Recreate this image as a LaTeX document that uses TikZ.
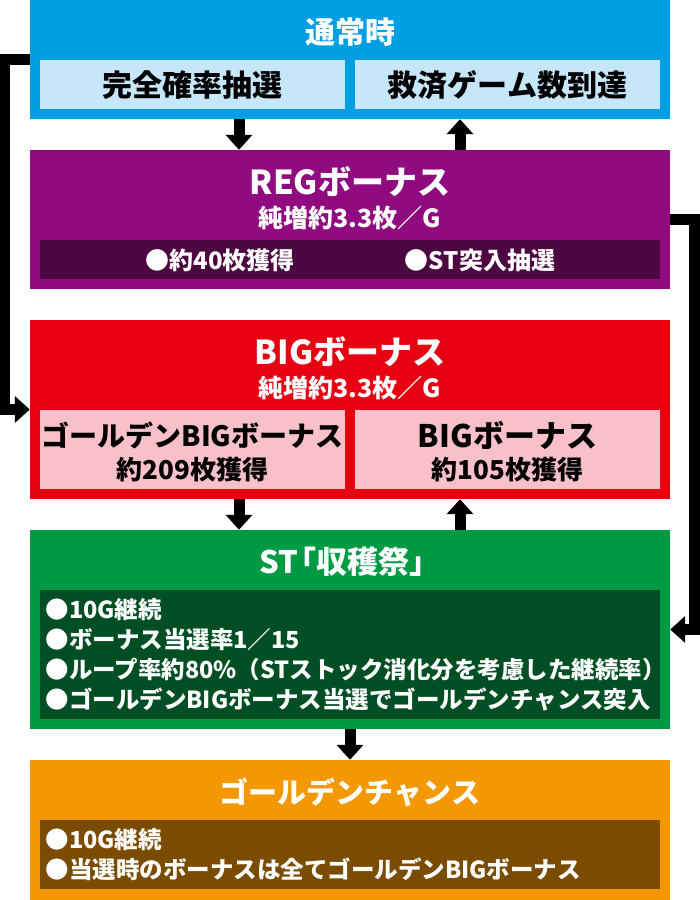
\documentclass[tikz,border=0pt]{standalone}
\usepackage{fontspec}
\setmainfont{Noto Sans CJK JP}[BoldFont={Noto Sans CJK JP Black}]
\usepackage{tikz}
\usetikzlibrary{arrows.meta, positioning}
\definecolor{normalcolor}{RGB}{0, 159, 227}
\definecolor{normallight}{RGB}{198, 230, 249}
\definecolor{regcolor}{RGB}{144, 10, 128}
\definecolor{regdark}{RGB}{76, 6, 64}
\definecolor{bigcolor}{RGB}{230, 0, 18}
\definecolor{biglight}{RGB}{248, 192, 200}
\definecolor{stcolor}{RGB}{0, 153, 68}
\definecolor{stdark}{RGB}{0, 78, 36}
\definecolor{goldcolor}{RGB}{243, 152, 0}
\definecolor{golddark}{RGB}{122, 76, 0}

\begin{document}
\begin{tikzpicture}[
    x=1pt, y=-1pt,
    panel/.style={fill=#1, inner sep=0pt, minimum width=640pt},
    inset/.style={fill=#1, inner sep=0pt},
    heading/.style={font=\bfseries\fontsize{#1}{#1}\selectfont, text=white},
    heading/.default=33,
    boxtext/.style={font=\bfseries\fontsize{#1}{#1}\selectfont},
    bandtext/.style={font=\bfseries\fontsize{#1}{30}\selectfont, text=white, align=left},
    bandtext/.default=23.5,
    flow/.style={-{Triangle[width=26pt, length=15pt]}, line width=11pt}
]
    \useasboundingbox (0,0) rectangle (700,900);

    % Normal
    \node[panel=normalcolor, minimum height=119pt] (normal) at (350, 59.5) {};
    \node[heading=30] (normaltitle) at (350, 32) {通常時};
    \node[inset=normallight, minimum width=305pt, minimum height=49pt] (lottery) at (192.5, 84.5) {};
    \node[boxtext=30] (lotterytext) at (192.5, 85) {完全確率抽選};
    \node[inset=normallight, minimum width=305pt, minimum height=49pt] (rescue) at (507.5, 84.5) {};
    \node[boxtext=30] (rescuetext) at (507.5, 85) {救済ゲーム数到達};

    % REG
    \node[panel=regcolor, minimum height=139pt] (reg) at (350, 219.5) {};
    \node[heading] (regtitle) at (350, 182) {REGボーナス};
    \node[heading=25] (regnet) at (350, 218) {純増約3.3枚／G};
    \node[inset=regdark, minimum width=620pt, minimum height=39pt] (regband) at (350, 259.5) {};
    \node[bandtext=24] (regget) at (220, 260) {●約40枚獲得};
    \node[bandtext=24] (regst) at (480, 260) {●ST突入抽選};

    % BIG
    \node[panel=bigcolor, minimum height=179pt] (big) at (350, 409.5) {};
    \node[heading] (bigtitle) at (350, 352) {BIGボーナス};
    \node[heading=25] (bignet) at (350, 388) {純増約3.3枚／G};
    \node[inset=biglight, minimum width=305pt, minimum height=79pt] (goldbig) at (192.5, 449.5) {};
    \node[boxtext=28] (goldbigname) at (192.5, 435) {ゴールデンBIGボーナス};
    \node[boxtext=26] (goldbigget) at (192.5, 470) {約209枚獲得};
    \node[inset=biglight, minimum width=305pt, minimum height=79pt] (plainbig) at (507.5, 449.5) {};
    \node[boxtext=31] (plainbigname) at (507.5, 435) {BIGボーナス};
    \node[boxtext=26] (plainbigget) at (507.5, 470) {約105枚獲得};

    % ST
    \node[panel=stcolor, minimum height=199pt] (st) at (350, 629.5) {};
    \node[heading=31] (sttitle) at (350, 562) {ST\kern-0.4em「収穫祭」};
    \node[inset=stdark, minimum width=620pt, minimum height=129pt] (stband) at (350, 654.5) {};
    \node[bandtext, anchor=west] (stlist) at (42, 655) {●10G継続\\●ボーナス当選率1／15\\●ループ率約80\%（STストック消化分を考慮した継続率）\\●ゴールデンBIGボーナス当選でゴールデンチャンス突入};

    % Golden chance
    \node[panel=goldcolor, minimum height=140pt] (gold) at (350, 830) {};
    \node[heading=29] (goldtitle) at (350, 792) {ゴールデンチャンス};
    \node[inset=golddark, minimum width=620pt, minimum height=69pt] (goldband) at (350, 854.5) {};
    \node[bandtext, anchor=west] (goldlist) at (42, 855) {●10G継続\\●当選時のボーナスは全てゴールデンBIGボーナス};

    % Flow
    \draw[flow] ([xshift=-111pt]normal.south) -- ([xshift=-111pt]reg.north);
    \draw[flow] ([xshift=110pt]reg.north) -- ([xshift=110pt]normal.south);
    \draw[flow] ([xshift=-111pt]big.south) -- ([xshift=-111pt]st.north);
    \draw[flow] ([xshift=110pt]st.north) -- ([xshift=110pt]big.south);
    \draw[flow] (st.south) -- (gold.north);
    \draw[flow] (normal.west) -- ++(-25, 0) |- (big.west);
    \draw[flow] (reg.east) -- ++(24, 0) |- (st.east);

\end{tikzpicture}
\end{document}
